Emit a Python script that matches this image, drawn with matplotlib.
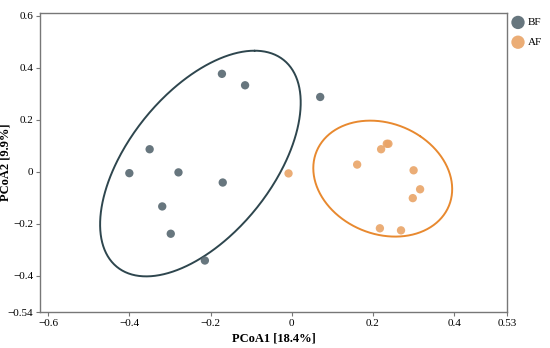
import numpy as np
import matplotlib
matplotlib.use("Agg")
import matplotlib.pyplot as plt

# Data
groups = ["BF", "AF"]
bf_x = [-0.172, -0.115, -0.350, -0.400, -0.279, -0.170, -0.319, -0.298, -0.214, 0.070]
bf_y = [0.376, 0.332, 0.086, -0.006, -0.003, -0.042, -0.134, -0.239, -0.342, 0.287]
af_x = [-0.008, 0.161, 0.220, 0.234, 0.238, 0.300, 0.316, 0.298, 0.217, 0.269]
af_y = [-0.007, 0.027, 0.086, 0.107, 0.107, 0.005, -0.068, -0.102, -0.218, -0.226]

# Ellipse parameters: center x, center y, half-extent x, half-extent y, correlation
bf_ell = [-0.225, 0.031, 0.247, 0.434, 0.54]
af_ell = [0.224, -0.027, 0.171, 0.223, -0.18]

xticks = [-0.6, -0.4, -0.2, 0, 0.2, 0.4, 0.53]
yticks = [-0.54, -0.4, -0.2, 0, 0.2, 0.4, 0.6]
xlabels = ["\u22120.6", "\u22120.4", "\u22120.2", "0", "0.2", "0.4", "0.53"]
ylabels = ["\u22120.54", "\u22120.4", "\u22120.2", "0", "0.2", "0.4", "0.6"]

pt_colors = ["#566770", "#E9A467"]
line_colors = ["#2E464E", "#E8892F"]

plt.rcParams["font.family"] = ["Liberation Serif", "DejaVu Serif"]

fig = plt.figure(figsize=(5.5, 3.48), dpi=100)
ax = fig.add_axes([40 / 550, 1 - 312 / 348, 467 / 550, 299 / 348])


def ellipse_pts(p):
    cx, cy, sx, sy, rho = p
    t = np.linspace(0, 2 * np.pi, 400)
    phi = np.arccos(rho)
    return cx + sx * np.cos(t + 1.0), cy + sy * np.cos(t + 1.0 - phi)


for xs, ys, ell, pc, lc, name in [
    (bf_x, bf_y, bf_ell, pt_colors[0], line_colors[0], groups[0]),
    (af_x, af_y, af_ell, pt_colors[1], line_colors[1], groups[1]),
]:
    ex, ey = ellipse_pts(ell)
    ax.plot(ex, ey, color=lc, lw=1.4, zorder=2, solid_capstyle="round",
            solid_joinstyle="round")
    ax.scatter(xs, ys, s=36, color=pc, alpha=0.9, edgecolors="none", zorder=3, label=name)

ax.set_xlim(-0.62, 0.53)
ax.set_ylim(-0.54, 0.61)
ax.set_xticks(xticks)
ax.set_xticklabels(xlabels)
ax.set_yticks(yticks)
ax.set_yticklabels(ylabels)
ax.tick_params(labelsize=8, length=3, color="#777777", pad=2)
for s in ax.spines.values():
    s.set_color("#777777")
    s.set_linewidth(1.0)

ax.set_xlabel("PCoA1 [18.4%]", fontsize=9, fontweight="bold", labelpad=3)
ax.set_ylabel("PCoA2 [9.9%]", fontsize=9, fontweight="bold")
ax.yaxis.set_label_coords(-28 / 467, 0.5)

leg = ax.legend(loc="upper left", bbox_to_anchor=(0.995, 1.007), frameon=False,
                fontsize=8, markerscale=1.6, handletextpad=0.3, labelspacing=0.9,
                borderaxespad=0.2, handlelength=1.2)

fig.savefig("out.png", dpi=100)
